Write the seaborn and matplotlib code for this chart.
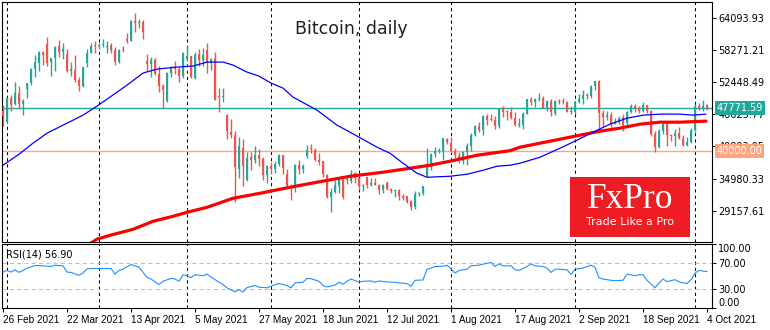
import numpy as np
import pandas as pd
import matplotlib
matplotlib.use("Agg")
import matplotlib.pyplot as plt
from matplotlib.patches import Rectangle
import seaborn as sns

# ---------------------------------------------------------------- data
# one bar per weekday session until the end of July, then every calendar day
dates = list(pd.bdate_range("2021-02-26", "2021-07-30")) + list(pd.date_range("2021-07-31", "2021-10-04"))

opens = [
    47180, 45160, 49612, 48415, 50522, 48528, 51174, 52272, 54824, 55964,
    57821, 59267, 56000, 56825, 58893, 57850, 57517, 54511, 54710, 52726,
    51683, 55947, 57750, 58930, 58926, 59098, 58760, 59171, 58186, 56099,
    58326, 60176, 59890, 63523, 63075, 63258, 56191, 55681, 56471, 53857,
    51739, 49077, 54030, 55036, 54858, 53568, 56620, 57214, 53252, 57441,
    56413, 58250, 55847, 56714, 49735, 49682, 46415, 43488, 42944, 36753,
    40597, 34700, 38795, 38392, 39316, 38507, 35659, 37294, 36699, 37600,
    39242, 35835, 33589, 33416, 37389, 36697, 39098, 40427, 40168, 38341,
    38100, 35641, 31622, 32515, 33682, 34659, 34679, 34475, 35909, 35036,
    33550, 35284, 33723, 34225, 33889, 32861, 34235, 33125, 32724, 32827,
    31841, 31800, 30838, 29796, 32138, 32305, 35384, 37276, 39503, 40008,
    40015, 42213, 41461, 39908, 39148, 38213, 39744, 40866, 42832, 44575,
    43791, 46280, 45601, 45598, 44440, 47811, 47097, 47019, 45937, 44686,
    44741, 46723, 49327, 48870, 49291, 49563, 47727, 49003, 46895, 49073,
    48908, 48834, 47024, 47100, 48807, 49288, 50009, 49937, 51769, 52660,
    46827, 46064, 46399, 44870, 45206, 46058, 44960, 47098, 48158, 47771,
    47273, 48278, 47261, 43012, 40678, 43560, 44904, 42840, 42722, 43234,
    42200, 41064, 41511, 43816, 48137, 47680, 48208,
]
highs = [
    48370, 49784, 50127, 52536, 51735, 49396, 52314, 54904, 57258, 58091,
    58011, 60540, 56833, 58970, 60117, 59498, 58471, 55985, 57262, 53392,
    55137, 58342, 59469, 59930, 59587, 60267, 59891, 59479, 58731, 58338,
    58937, 61253, 63742, 64863, 63821, 63594, 57520, 57062, 56757, 55410,
    52120, 54288, 55416, 56227, 55115, 57900, 58973, 57214, 57911, 58363,
    58606, 59519, 56872, 57939, 51330, 51438, 46623, 45812, 43547, 42462,
    42172, 39836, 39776, 40782, 40379, 38856, 37469, 37896, 38231, 39476,
    39242, 36790, 34017, 37537, 38334, 37608, 40978, 41295, 40516, 39513,
    38187, 35751, 33299, 34753, 35228, 35487, 35219, 36542, 36074, 35036,
    33940, 35284, 35038, 35059, 33907, 34042, 34581, 33340, 33114, 33159,
    32249, 31885, 31006, 32752, 32576, 33650, 40499, 39542, 40640, 40593,
    42236, 42311, 42541, 40446, 39779, 39952, 41341, 43271, 44689, 45282,
    46456, 46637, 46735, 46218, 47819, 48089, 47357, 47998, 47108, 45952,
    47033, 49342, 49758, 49479, 50482, 49878, 49202, 49376, 49112, 49287,
    49600, 48925, 48189, 49135, 50344, 51034, 50535, 51868, 52700, 52853,
    47334, 47256, 47031, 45968, 46364, 46598, 47218, 48450, 48486, 48157,
    48844, 48373, 47328, 43639, 44006, 44968, 45080, 42996, 43919, 44313,
    42775, 42545, 44092, 48436, 48572, 49130, 48500,
]
lows = [
    44454, 45115, 47228, 48274, 47656, 46542, 49506, 51839, 53290, 54484,
    55510, 55393, 53555, 54528, 57023, 56643, 54288, 53470, 52514, 50856,
    51579, 55139, 57646, 57726, 58505, 58870, 57694, 57646, 55604, 55879,
    57807, 59589, 59869, 61554, 62208, 60222, 54368, 53448, 53696, 50583,
    47714, 48852, 53320, 53887, 52418, 53129, 56479, 53191, 52969, 55382,
    55321, 54071, 54608, 49150, 46980, 48868, 42207, 42367, 30681, 35050,
    33616, 34551, 36581, 37868, 37247, 34779, 34153, 35787, 35966, 37243,
    35717, 33480, 31114, 32475, 35847, 36044, 38757, 39609, 38176, 37439,
    35255, 31379, 28893, 32397, 32385, 31350, 33902, 34252, 34086, 32883,
    32770, 33213, 33599, 33862, 32133, 32318, 32854, 32302, 31600, 31175,
    31021, 30563, 29360, 29526, 31745, 32057, 35287, 36442, 38856, 39540,
    38397, 41215, 39540, 38782, 37782, 37589, 37459, 39932, 42618, 43331,
    42848, 44705, 45351, 43861, 44174, 46060, 45579, 45700, 44530, 44364,
    43927, 46650, 48263, 47911, 49074, 47712, 47163, 46315, 46394, 48428,
    48439, 46950, 46750, 46665, 48652, 48495, 49441, 49539, 51053, 43285,
    44562, 45553, 44260, 44818, 44790, 43591, 44753, 46773, 47079, 46829,
    47023, 46906, 42598, 39788, 40570, 43103, 40936, 41759, 40848, 42190,
    40931, 40829, 41444, 43320, 47438, 47158, 47400,
]
closes = [
    46339, 49631, 48378, 50538, 48561, 48927, 52246, 54824, 56008, 57805,
    57333, 55907, 56804, 58870, 57858, 58346, 54529, 54738, 52774, 51705,
    55138, 57750, 58918, 58918, 59095, 59384, 59057, 58192, 56048, 58323,
    58245, 59893, 63503, 63110, 63314, 61572, 55724, 56473, 53906, 51762,
    51093, 54021, 55033, 54824, 53555, 57750, 57200, 53333, 57424, 56396,
    57356, 55859, 56704, 49150, 49716, 49880, 43537, 42909, 37002, 40782,
    37304, 38705, 38402, 39294, 38436, 35697, 37332, 36685, 37575, 39188,
    36825, 33553, 33520, 37388, 36702, 37334, 40218, 40406, 38347, 38053,
    35787, 31676, 32505, 33723, 34662, 31637, 34649, 35877, 35041, 33572,
    33897, 33747, 34235, 33855, 32877, 33798, 33155, 32702, 32822, 31780,
    31421, 30817, 29807, 32110, 32313, 33581, 37337, 39406, 39995, 40008,
    42235, 41626, 39974, 39201, 38153, 39747, 40869, 42817, 44556, 43798,
    46366, 45585, 45593, 44428, 47793, 47096, 47047, 46004, 44695, 44801,
    46717, 49339, 48905, 49321, 49546, 47707, 48993, 46942, 49058, 48902,
    48830, 47055, 47167, 48848, 49327, 50026, 49944, 51753, 52633, 46812,
    46092, 46400, 44919, 45160, 45957, 44695, 47092, 48176, 47783, 47268,
    48278, 47261, 43012, 40694, 43574, 44896, 42840, 42716, 43208, 42236,
    41034, 41564, 43790, 48116, 47711, 48199, 47771.59,
]

# moving averages, sampled along the bars (bar index, price)
ma_fast_bar = [0, 4, 7.5, 11, 16, 20, 23.5, 26.75, 31, 35, 38.5, 43.5, 47.5, 51, 55, 57.5,
               61, 64, 67, 70, 72.5, 78.5, 83.5, 86.75, 89, 93.5, 96.75, 100, 103.5, 106,
               111.75, 116, 120, 123.5, 126.75, 129.25, 134.25, 139.25, 143.5, 147.5,
               151.75, 156, 160, 164.25, 169.25, 172.5, 175.75]
ma_fast = [37390, 39380, 41380, 43190, 45000, 46450, 48090, 49720, 51890, 54070, 54790,
           55160, 55340, 56060, 56060, 55520, 54250, 53520, 52260, 51350, 49720, 47360,
           44640, 43370, 42470, 40650, 39560, 37750, 35940, 35210, 35390, 35760, 36480,
           37210, 37390, 37750, 38840, 40470, 41920, 43370, 44820, 45910, 46450, 46640,
           46640, 46450, 46640]
ma_slow_bar = [22, 23.5, 26.75, 32.5, 37.5, 42.5, 46, 51, 57.5, 64.25, 66.75, 71.75, 78.5,
               86.75, 95, 101.75, 106.75, 111.75, 118.5, 126.75, 129.25, 134.25, 139.25,
               144.25, 149.25, 154.25, 159.25, 164.25, 169.25, 175.75]
ma_slow = [23300, 24000, 24700, 25790, 27240, 28140, 28870, 29770, 31410, 32310, 32680,
           33400, 34310, 35390, 36120, 36840, 37390, 38110, 39200, 40020, 40650, 41380,
           42100, 42830, 43550, 44100, 44820, 45180, 45180, 45370]

# RSI(14), sampled along the bars
rsi_bar = [0, 1, 2, 3, 4, 5, 6, 8, 9, 12, 13, 15, 16, 17, 19, 20, 21, 23, 27, 28, 29, 30,
           32, 33, 34, 36, 37, 39, 40, 42, 43, 44, 45, 46, 47, 48, 50, 51, 52, 53, 55, 56,
           58, 59, 60, 61, 63, 64, 66, 68, 69, 71, 72, 73, 75, 76, 77, 79, 80, 81, 83, 84,
           85, 86, 87, 88, 89, 90, 92, 93, 94, 96, 98, 99, 101, 102, 103, 105, 106, 107,
           108, 110, 111, 112, 113, 114, 116, 117, 119, 121, 122, 123, 124, 125, 127, 128,
           129, 131, 132, 133, 135, 136, 137, 138, 139, 141, 142, 143, 145, 146, 147, 148,
           149, 150, 152, 153, 155, 156, 158, 159, 160, 161, 163, 164, 165, 166, 168, 169,
           171, 172, 173, 174, 176]
rsi = [56.1, 58.7, 56.1, 59.7, 55.6, 58.7, 62.3, 66.4, 66.4, 64.8, 66.9, 65.9, 56.1, 55.6,
       51.0, 54.6, 61.2, 61.7, 61.7, 53.0, 58.7, 60.7, 67.9, 65.9, 63.8, 47.9, 45.3, 36.6,
       41.7, 46.3, 45.3, 41.7, 52.0, 50.5, 47.4, 52.0, 50.5, 53.0, 48.4, 44.3, 36.6, 31.5,
       25.3, 28.9, 24.8, 32.0, 35.1, 32.5, 31.5, 36.6, 38.2, 35.1, 31.5, 39.2, 40.2, 46.3,
       45.8, 41.7, 35.1, 33.0, 35.6, 40.2, 37.1, 41.7, 45.3, 42.8, 40.7, 41.7, 42.3, 40.2,
       42.3, 40.7, 40.2, 39.2, 38.2, 34.0, 43.3, 43.8, 60.7, 62.3, 64.8, 65.3, 66.9, 61.2,
       54.6, 58.7, 60.7, 65.9, 66.9, 70.0, 71.0, 64.8, 68.9, 65.9, 65.9, 59.7, 58.7, 64.8,
       68.9, 65.9, 64.8, 62.3, 55.6, 60.7, 60.7, 59.7, 52.5, 60.7, 62.3, 64.8, 66.9, 63.8,
       46.9, 45.3, 43.3, 42.8, 43.3, 53.0, 50.5, 52.0, 52.0, 43.3, 31.5, 39.2, 45.3, 41.2,
       44.3, 40.7, 38.2, 44.3, 54.6, 58.7, 56.90]

price_ticks = [64093.93, 58271.21, 52448.49, 46625.77, 40803.05, 34980.33, 29157.61]
last_price = 47771.59
support_level = 40000.00
rsi_levels = [70, 30]
rsi_ticks = [100, 70, 30, 0]
date_tick_every = 16

# ---------------------------------------------------------------- style
sns.set_style("white")
plt.rcParams["font.family"] = ["DejaVu Sans"]

UP = "#26A69A"
DOWN = "#EF5350"
TEAL = "#20A898"
SALMON = "#FFA47C"

df = pd.DataFrame({"date": dates, "open": opens, "high": highs, "low": lows, "close": closes})
df["bar"] = np.arange(len(df))
df["up"] = df["close"] >= df["open"]

W, H = 770, 330
fig = plt.figure(figsize=(W / 100, H / 100), dpi=100)
ax = fig.add_axes([2 / W, (H - 242) / H, 710 / W, 240 / H])
ax2 = fig.add_axes([2 / W, (H - 308) / H, 710 / W, 64 / H])

xlim = (-0.25, len(df) + 0.25)

# month separators (first bar of each month)
month_first = df.groupby(df["date"].dt.to_period("M"))["bar"].min().values[1:]
for a in (ax, ax2):
    for b in month_first:
        a.axvline(b, color="black", linestyle=(0, (3, 3)), linewidth=0.75, zorder=1)

# horizontal price levels
ax.axhline(last_price, color=TEAL, linewidth=1.0, zorder=2)
ax.axhline(support_level, color=SALMON, linewidth=1.0, zorder=2)

# candles
cols = np.where(df["up"], UP, DOWN)
ax.vlines(df["bar"], df["low"], df["high"], colors=cols, linewidth=1.0, zorder=3)
body_lo = np.minimum(df["open"], df["close"])
body_h = np.maximum(np.abs(df["close"] - df["open"]), 180)
ax.bar(df["bar"], body_h, bottom=body_lo, width=0.72, color=cols, linewidth=0, zorder=4)

# moving averages
sns.lineplot(x=ma_slow_bar, y=ma_slow, ax=ax, color="#FF0000", linewidth=2.3,
             sort=False, estimator=None, zorder=5)
sns.lineplot(x=ma_fast_bar, y=ma_fast, ax=ax, color="#0000FF", linewidth=0.9,
             sort=False, estimator=None, zorder=6)

ax.set_xlim(*xlim)
ax.set_ylim(23491, 66936)
ax.set_xticks([])
ax.yaxis.tick_right()
ax.set_yticks(price_ticks)
ax.set_yticklabels([f"{v:.2f}" for v in price_ticks])
ax.tick_params(axis="y", direction="out", length=3, width=0.75, pad=1.5,
               labelsize=7, colors="black", right=True, left=False)
ax.set_xlabel("")
ax.set_ylabel("")

for val, col in [(last_price, TEAL), (support_level, SALMON)]:
    ax.annotate(f"{val:.2f}", xy=(1, val), xycoords=ax.get_yaxis_transform(),
                xytext=(3.2, 0), textcoords="offset points", ha="left", va="center",
                color="white", fontsize=7,
                bbox=dict(boxstyle="square,pad=0.18", fc=col, ec="none"),
                annotation_clip=False, zorder=10)

# RSI panel
for lv in rsi_levels:
    ax2.axhline(lv, color="#C0C0C0", linestyle=(0, (4, 3)), linewidth=0.75, zorder=2)
sns.lineplot(x=rsi_bar, y=rsi, ax=ax2, color="#1E90FF", linewidth=0.8,
             sort=False, estimator=None, zorder=4)
ax2.set_xlim(*xlim)
ax2.set_ylim(0, 100)
ax2.yaxis.tick_right()
ax2.set_yticks(rsi_ticks)
ylabels = ax2.set_yticklabels([f"{v:.2f}" for v in rsi_ticks])
ylabels[0].set_verticalalignment("top")
ylabels[-1].set_verticalalignment("bottom")
ax2.tick_params(axis="y", direction="out", length=3, width=0.75, pad=1.5,
                labelsize=7, colors="black", right=True, left=False)
tick_bars = df["bar"].values[::date_tick_every]
ax2.set_xticks(tick_bars)
xl = ax2.set_xticklabels([f"{d.day} {d:%b %Y}" for d in df["date"].iloc[tick_bars]])
for t in xl:
    t.set_horizontalalignment("left")
    t.set_fontfamily("Liberation Sans")
ax2.tick_params(axis="x", direction="out", length=3, width=0.75, pad=2,
                labelsize=7.2, colors="black", bottom=True)
ax2.set_xlabel("")
ax2.set_ylabel("")
ax2.text(4 / 710, 0.84, f"RSI(14) {rsi[-1]:.2f}", transform=ax2.transAxes,
         fontsize=7, va="center", ha="left", color="black")

for a in (ax, ax2):
    for s in a.spines.values():
        s.set_color("black")
        s.set_linewidth(0.8)
        s.set_visible(True)

# title
fig.text(351 / W, 1 - 29 / H, "Bitcoin, daily", ha="center", va="center",
         fontsize=12.5, color="#202020")

# brand block
fig.add_artist(Rectangle((570 / W, (H - 237) / H), 120 / W, 60 / H,
                         transform=fig.transFigure, facecolor="#EE1C23",
                         edgecolor="none", zorder=20))
fig.text(630 / W, 1 - 199 / H, "FxPro", ha="center", va="center", fontsize=25.5,
         family="Liberation Serif", color="white", zorder=21)
fig.text(630 / W, 1 - 222 / H, "Trade Like a Pro", ha="center", va="center",
         fontsize=8, family="DejaVu Sans", color="white", zorder=21)

fig.savefig("out.png", dpi=100)
